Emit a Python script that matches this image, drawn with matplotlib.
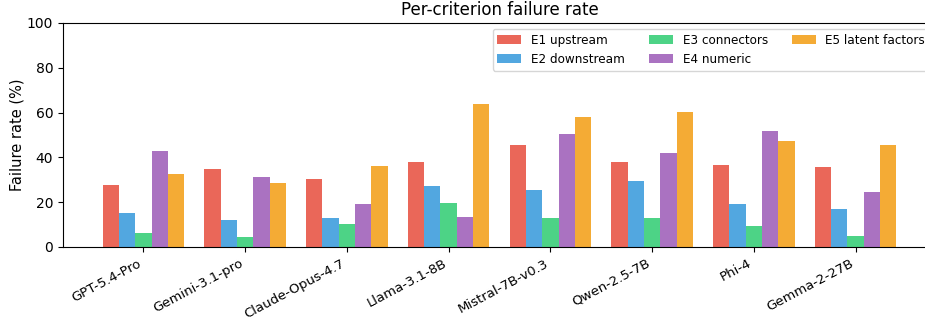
import matplotlib
matplotlib.use('Agg')
import matplotlib.pyplot as plt
import numpy as np

models = ['GPT-5.4-Pro', 'Gemini-3.1-pro', 'Claude-Opus-4.7', 'Llama-3.1-8B',
          'Mistral-7B-v0.3', 'Qwen-2.5-7B', 'Phi-4', 'Gemma-2-27B']

e1_upstream = [27.7, 34.9, 30.4, 38.0, 45.6, 38.0, 36.7, 35.8]
e2_downstream = [15.2, 12.1, 13.0, 27.3, 25.5, 29.5, 19.3, 17.0]
e3_connectors = [6.3, 4.5, 10.3, 19.7, 13.0, 13.0, 9.4, 4.9]
e4_numeric = [43.0, 31.3, 19.3, 13.4, 50.6, 42.1, 51.9, 24.6]
e5_latent = [32.7, 28.6, 36.2, 64.0, 58.2, 60.4, 47.4, 45.6]

series = [
    ('E1 upstream', e1_upstream, '#e74c3c'),
    ('E2 downstream', e2_downstream, '#3498db'),
    ('E3 connectors', e3_connectors, '#2ecc71'),
    ('E4 numeric', e4_numeric, '#9b59b6'),
    ('E5 latent factors', e5_latent, '#f39c12'),
]

fig = plt.figure(figsize=(9.25, 3.26), dpi=100)
ax = fig.add_axes([63 / 925, 79 / 326, 873 / 925, 224 / 326])

x = np.arange(len(models))
w = 0.16
for i, (name, vals, col) in enumerate(series):
    ax.bar(x + (i - 2) * w, vals, w, label=name, color=col, alpha=0.85)

ax.set_xlim(-0.79, len(models) - 1 + 0.79)
ax.set_ylim(0, 100)
ax.set_xticks(x)
ax.set_xticklabels(models, rotation=28, ha='right', fontsize=9.5)
ax.tick_params(axis='y', labelsize=10)
ax.set_ylabel('Failure rate (%)', fontsize=10.5, labelpad=2)
ax.set_title('Per-criterion failure rate', fontsize=12)
ax.legend(loc='upper right', ncol=3, fontsize=8.65)

fig.savefig('out.png', dpi=100)
